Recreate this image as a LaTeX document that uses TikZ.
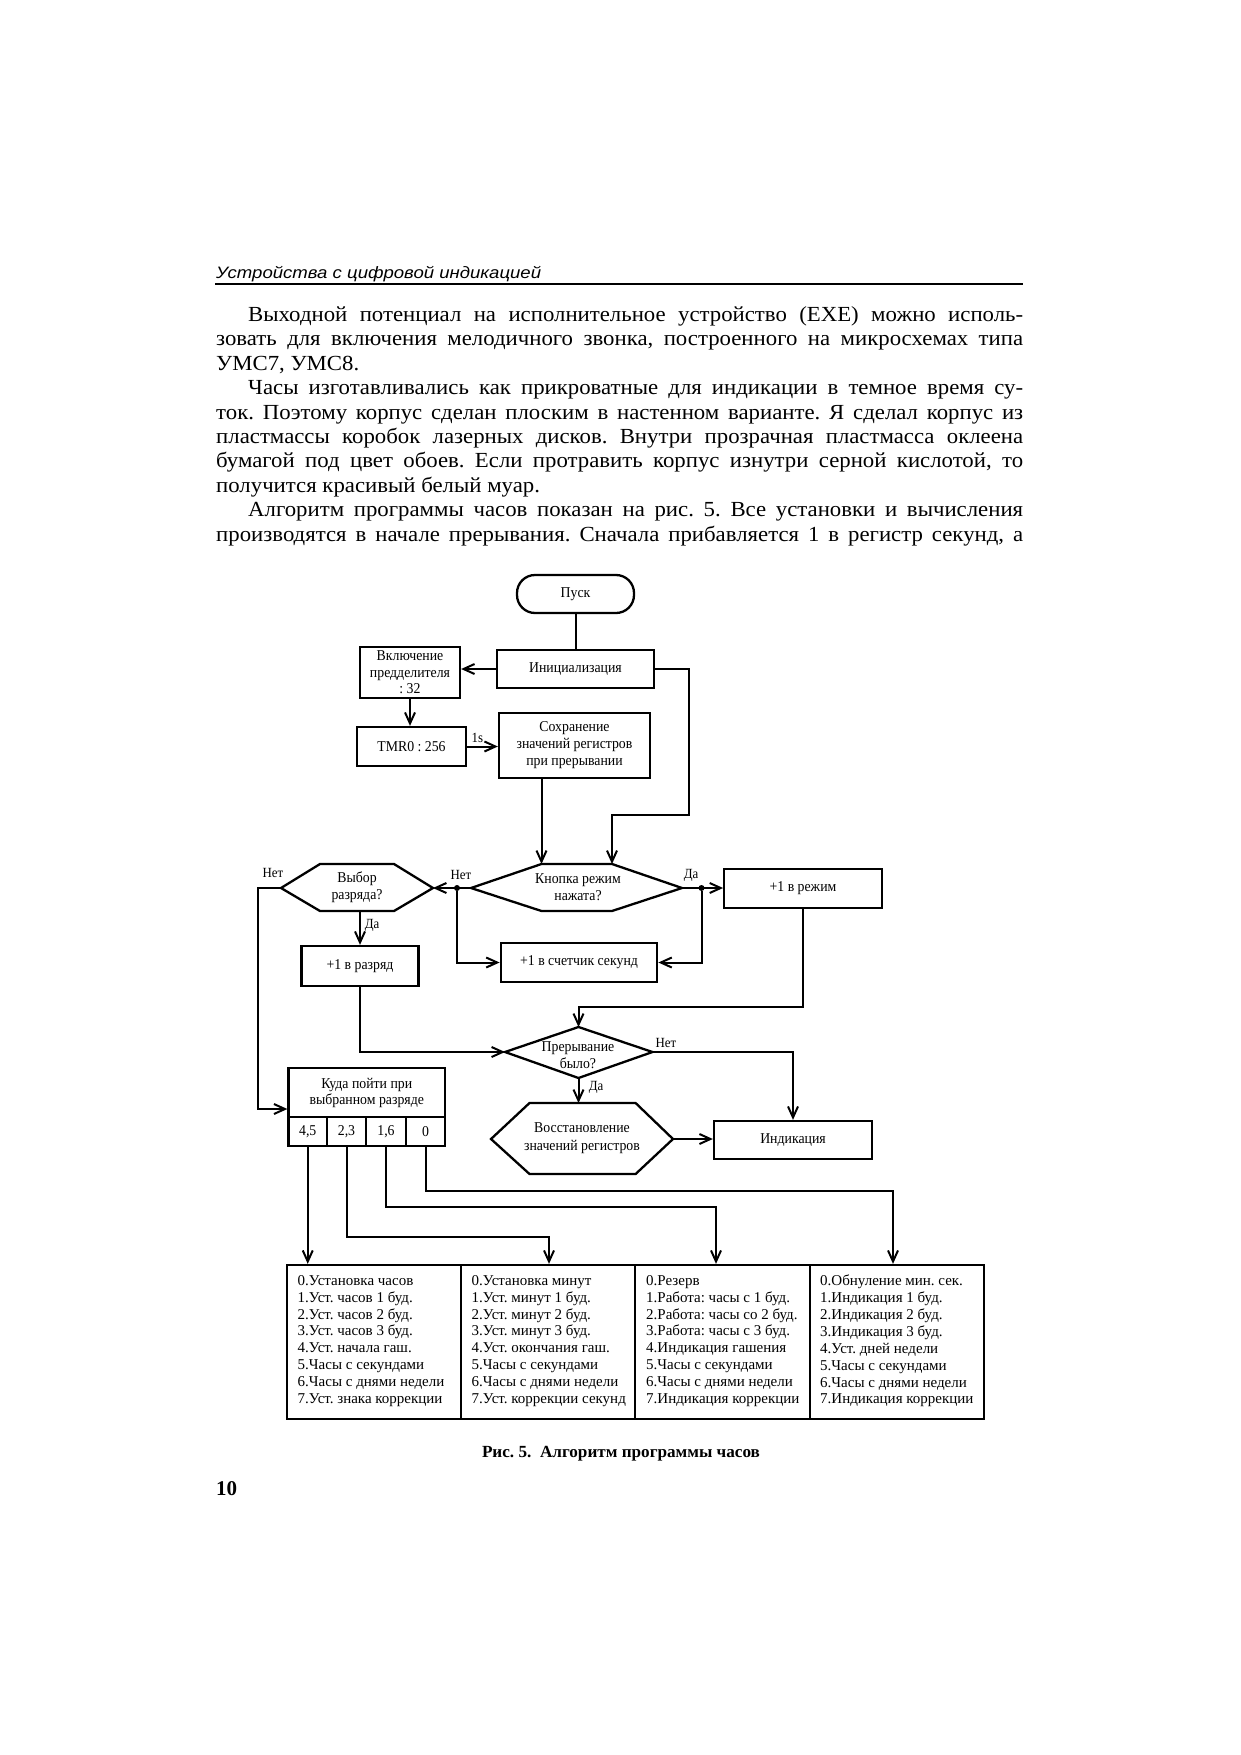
\documentclass[tikz,border=0pt]{standalone}
\usepackage{fontspec}
\usepackage{graphicx}
\usetikzlibrary{arrows.meta,calc}
\setmainfont{Liberation Serif}
\newfontfamily\bodyfont[FakeStretch=1.06]{Liberation Serif}
\newfontfamily\headfont{Liberation Sans}
\newfontfamily\dgfont[FakeStretch=0.92]{Liberation Serif}
\newfontfamily\tbfont{Liberation Serif}
\frenchspacing
\newlength\fitlen
\newcommand\fitto[2]{\settowidth\fitlen{#2}\pgfmathsetmacro\fitratio{(#1)/\fitlen}\scalebox{\fitratio}[1]{#2}}
\newcommand\justline[2]{\settowidth\fitlen{#2}\ifdim\fitlen>#1\relax\fitto{#1}{#2}\else\makebox[#1][s]{#2}\fi}
\tikzset{
  pline/.style={anchor=mid west, inner sep=0pt, font=\bodyfont\fontsize{21.5}{24}\selectfont\frenchspacing},
  box/.style={draw, line width=2.3pt, inner sep=0pt, align=center, font=\dgfont\fontsize{15}{16.5}\selectfont},
  hexline/.style={draw, line width=2.3pt, line join=miter},
  htext/.style={inner sep=0pt, align=center, font=\dgfont\fontsize{15}{16.5}\selectfont},
  lbl/.style={inner sep=0pt, font=\dgfont\fontsize{14}{16}\selectfont},
  ttext/.style={inner sep=0pt, align=left, anchor=west, font=\tbfont\fontsize{15}{16.9}\selectfont},
  conn/.style={line width=2pt},
  arr/.style={line width=2pt, -{Straight Barb[length=11pt,width=10pt]}},
  dot/.style={circle, fill, inner sep=0pt, minimum size=6pt}
}
\begin{document}
\begin{tikzpicture}[x=1pt,y=-1pt]
\fill[white] (0,0) rectangle (1240,1755);
\useasboundingbox (0,0) rectangle (1240,1755);

% header
\node[anchor=base west, inner sep=0pt, font=\headfont\itshape\fontsize{16.5}{18}\selectfont] (hdr) at (216,278) {\fitto{325pt}{Устройства с цифровой индикацией}};
\coordinate (hl1) at (215,284);
\coordinate (hl2) at (1023,284);
\draw[line width=2pt] (hl1) -- (hl2);

% paragraphs
\node[pline] (p1) at (248,319) {\justline{775pt}{Выходной потенциал на исполнительное устройство (EXE) можно исполь-}};
\node[pline] (p2) at (216,343.5) {\justline{807pt}{зовать для включения мелодичного звонка, построенного на микросхемах типа}};
\node[pline] (p3) at (216,368) {УМС7, УМС8.};
\node[pline] (p4) at (248,392.4) {\justline{775pt}{Часы изготавливались как прикроватные для индикации в темное время су-}};
\node[pline] (p5) at (216,416.8) {\justline{807pt}{ток. Поэтому корпус сделан плоским в настенном варианте. Я сделал корпус из}};
\node[pline] (p6) at (216,441.3) {\justline{807pt}{пластмассы коробок лазерных дисков. Внутри прозрачная пластмасса оклеена}};
\node[pline] (p7) at (216,465.7) {\justline{807pt}{бумагой под цвет обоев. Если протравить корпус изнутри серной кислотой, то}};
\node[pline] (p8) at (216,490.2) {получится красивый белый муар.};
\node[pline] (p9) at (248,514.6) {\justline{775pt}{Алгоритм программы часов показан на рис. 5. Все установки и вычисления}};
\node[pline] (p10) at (216,539) {\justline{807pt}{производятся в начале прерывания. Сначала прибавляется 1 в регистр секунд, а}};

% ---- flowchart boxes
\node[box, rounded corners=18pt, minimum width=117pt, minimum height=38pt] (start) at (575.5,594) {Пуск};
\node[box, minimum width=157pt, minimum height=38pt] (init) at (575.5,669) {Инициализация};
\node[box, minimum width=100pt, minimum height=51pt] (presc) at (410,672.5) {Включение\\предделителя\\: 32};
\node[box, minimum width=109pt, minimum height=39pt] (tmr) at (411.5,746.5) {TMR0 : 256};
\node[box, minimum width=151pt, minimum height=65pt, font=\dgfont\fontsize{15}{17}\selectfont] (save) at (574.5,745.5) {Сохранение\\значений регистров\\при прерывании};

% Knopka hexagon
\coordinate (knL) at (471,888);
\coordinate (knTL) at (541.5,864);
\coordinate (knTR) at (612,864);
\coordinate (knR) at (682,888);
\coordinate (knBR) at (612,911);
\coordinate (knBL) at (541.5,911);
\draw[hexline] (knL) -- (knTL) -- (knTR) -- (knR) -- (knBR) -- (knBL) -- cycle;
\node[htext] (kn) at (578,887) {Кнопка режим\\нажата?};

% Vybor hexagon
\coordinate (vyL) at (281,888);
\coordinate (vyTL) at (320,864);
\coordinate (vyTR) at (394,864);
\coordinate (vyR) at (433,888);
\coordinate (vyBR) at (394,911);
\coordinate (vyBL) at (320,911);
\coordinate (vyB) at (360,911);
\draw[hexline] (vyL) -- (vyTL) -- (vyTR) -- (vyR) -- (vyBR) -- (vyBL) -- cycle;
\node[htext, font=\dgfont\fontsize{15}{17}\selectfont] (vy) at (357,887) {Выбор\\разряда?};

\node[box, minimum width=117pt, minimum height=40pt] (razr) at (360,966) {+1 в разряд};
\node[box, minimum width=156.5pt, minimum height=39pt] (cnt) at (579,962.5) {+1 в счетчик секунд};
\node[box, minimum width=157.5pt, minimum height=39pt] (mode) at (803,888.5) {+1 в режим};

% Preryvanie diamond
\coordinate (prT) at (578.5,1027);
\coordinate (prR) at (652.5,1052);
\coordinate (prB) at (578.5,1078);
\coordinate (prL) at (505,1052);
\draw[hexline] (prT) -- (prR) -- (prB) -- (prL) -- cycle;
\node[htext] (pr) at (578,1055) {Прерывание\\было?};

% Vosstanovlenie hexagon
\coordinate (voL) at (491,1139);
\coordinate (voTL) at (529.5,1103);
\coordinate (voTR) at (635.6,1103);
\coordinate (voR) at (673,1139);
\coordinate (voBR) at (635.6,1174);
\coordinate (voBL) at (529.5,1174);
\draw[hexline] (voL) -- (voTL) -- (voTR) -- (voR) -- (voBR) -- (voBL) -- cycle;
\node[htext, font=\dgfont\fontsize{15}{18}\selectfont] (vo) at (582,1138) {Восстановление\\значений регистров};

\node[box, minimum width=158pt, minimum height=38pt] (ind) at (793,1140) {Индикация};

% Kuda box with cells
\node[box, minimum width=156.5pt, minimum height=49pt, font=\dgfont\fontsize{15}{16}\selectfont] (kuda) at (366.75,1092.5) {Куда пойти при\\выбранном разряде};
\node[box, minimum width=38.5pt, minimum height=29pt] (c1) at (307.75,1131.5) {4,5};
\node[box, minimum width=39pt, minimum height=29pt] (c2) at (346.5,1131.5) {2,3};
\node[box, minimum width=40pt, minimum height=29pt] (c3) at (386,1131.5) {1,6};
\node[box, minimum width=39pt, minimum height=29pt] (c4) at (425.5,1131.5) {0};

% table
\node[box, minimum width=174pt, minimum height=154pt] (t1) at (374,1342) {};
\node[box, minimum width=174pt, minimum height=154pt] (t2) at (548,1342) {};
\node[box, minimum width=175pt, minimum height=154pt] (t3) at (722.5,1342) {};
\node[box, minimum width=174pt, minimum height=154pt] (t4) at (897,1342) {};
\node[ttext] (tx1) at (297.5,1341) {0.Установка часов\\1.Уст. часов 1 буд.\\2.Уст. часов 2 буд.\\3.Уст. часов 3 буд.\\4.Уст. начала гаш.\\5.Часы с секундами\\6.Часы с днями недели\\7.Уст. знака коррекции};
\node[ttext] (tx2) at (471.5,1341) {0.Установка минут\\1.Уст. минут 1 буд.\\2.Уст. минут 2 буд.\\3.Уст. минут 3 буд.\\4.Уст. окончания гаш.\\5.Часы с секундами\\6.Часы с днями недели\\7.Уст. коррекции секунд};
\node[ttext] (tx3) at (646,1341) {0.Резерв\\1.Работа: часы с 1 буд.\\2.Работа: часы со 2 буд.\\3.Работа: часы с 3 буд.\\4.Индикация гашения\\5.Часы с секундами\\6.Часы с днями недели\\7.Индикация коррекции};
\node[ttext] (tx4) at (820,1341) {0.Обнуление мин. сек.\\1.Индикация 1 буд.\\2.Индикация 2 буд.\\3.Индикация 3 буд.\\4.Уст. дней недели\\5.Часы с секундами\\6.Часы с днями недели\\7.Индикация коррекции};

% ---- connectors
\draw[conn] (start) -- (init);
\draw[arr] (init.west) -- (init.west -| presc.east);
\draw[arr] (presc.south) -- (presc.south |- tmr.north);
\draw[arr] (tmr.east) -- (tmr.east -| save.west) node[lbl, pos=0.33, above=3pt] (ls) {1s};
\draw[arr] (save.south -| knTL) -- (knTL);
\coordinate (rt) at (689,815);
\draw[arr] (init.east) -| (rt) -| (knTR);
\draw[arr] (knL) -- (vyR);
\node[dot] (dL) at (457,888) {};
\draw[arr] (dL) |- (cnt.west);
\draw[arr] (knR) -- (knR -| mode.west);
\node[dot] (dR) at (701.5,888) {};
\draw[arr] (dR) |- (cnt.east);
\coordinate (lft) at (258,888);
\draw[arr] (vyL) -- (lft) |- ([yshift=-16.5pt]kuda.west);
\draw[arr] (vyB) -- (vyB |- razr.north);
\draw[arr] (razr.south) |- (prL);
\coordinate (md) at (803,1007);
\draw[arr] (mode.south) -- (md) -| (prT);
\draw[arr] (prR) -| (ind.north);
\draw[arr] (prB) -- (prB |- voTL);
\draw[arr] (voR) -- (voR -| ind.west);
\draw[arr] (c1.south) -- (c1.south |- t1.north);
\coordinate (b2) at (549,1237);
\coordinate (b3) at (716,1207);
\coordinate (b4) at (893,1191);
\draw[arr] (c2.south) |- (b2) -- (b2 |- t2.north);
\draw[arr] (c3.south) |- (b3) -- (b3 |- t3.north);
\draw[arr] (c4.south) |- (b4) -- (b4 |- t4.north);

% labels
\node[lbl] (n1) at (461,875) {Нет};
\node[lbl] (y1) at (691,875) {Да};
\node[lbl] (n2) at (273,873) {Нет};
\node[lbl] (y2) at (372,925) {Да};
\node[lbl] (n3) at (666,1043) {Нет};
\node[lbl] (y3) at (596,1087) {Да};

% caption and page number
\node[anchor=mid, inner sep=0pt, font=\bfseries\fontsize{17}{20}\selectfont] (cap) at (621,1455) {\fitto{278pt}{Рис. 5.\ \ Алгоритм программы часов}};
\node[anchor=mid west, inner sep=0pt, font=\bfseries\fontsize{21}{24}\selectfont] (pg) at (216,1493) {10};
\end{tikzpicture}
\end{document}
